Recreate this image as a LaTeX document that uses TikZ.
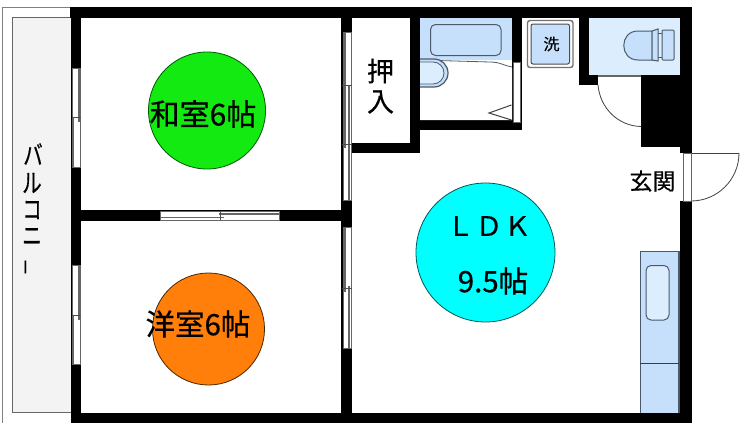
\documentclass[tikz,border=0pt]{standalone}
\usepackage{fontspec}
\setmainfont{Noto Sans CJK JP}[RawFeature={embolden=0.5}]
\definecolor{wallc}{HTML}{000000}
\definecolor{bluefix}{HTML}{C6E0FB}
\definecolor{paleblue}{HTML}{DCEEFD}
\definecolor{fixline}{HTML}{4A5A6A}
\definecolor{balc}{HTML}{F3F3F3}
\definecolor{winline}{HTML}{666666}
\definecolor{greenroom}{HTML}{12EA12}
\definecolor{cyanroom}{HTML}{00FFFF}
\definecolor{orangeroom}{HTML}{FF7F0A}
\tikzset{
  x=1pt,y=-1pt,
  wall/.style={fill=wallc,draw=none},
  winbox/.style={fill=white,draw=winline,line width=0.8pt},
  winrail/.style={draw=winline,line width=1.2pt},
  wintick/.style={draw=black!70,line width=0.8pt},
  fixt/.style={fill=bluefix,draw=fixline,line width=1pt},
  swing/.style={draw=black!75,line width=0.8pt},
  lbl/.style={inner sep=0pt,text=black}
}
\newcommand{\fsz}[1]{\fontsize{#1}{#1}\selectfont}
\begin{document}
\begin{tikzpicture}
\useasboundingbox (0,0) rectangle (741,423);
\fill[white] (0,0) rectangle (741,423);
% balcony
\draw[draw=black!50,line width=1pt,fill=white] (71,7) -- (2,7) -- (2,423);
\draw[draw=black!60,line width=1pt,fill=balc] (71,17) -- (12,17) -- (12,412) -- (71,412);
% room fills
\fill[bluefix] (420,18) rectangle (512,60);
\fill[paleblue] (589,18) rectangle (680,75);
\draw[draw=black!60,line width=0.8pt] (589,75) -- (680,75);
% circles
\draw[fill=greenroom,draw=green!35!black,line width=0.8pt] (207,110.5) circle[radius=58.5];
\draw[fill=cyanroom,draw=teal!70!black,line width=0.8pt] (485.5,252.5) circle[radius=69.5];
\draw[fill=orangeroom,draw=black!70!orange,line width=0.8pt] (208.5,329) circle[radius=56];
% walls
\fill[wall] (70,7) rectangle (692,18);
\fill[wall] (680,7) rectangle (692,153);
\fill[wall] (680,201) rectangle (692,423);
\fill[wall] (71,413) rectangle (692,423);
\fill[wall] (71,7) rectangle (81,423);
\fill[wall] (71,210) rectangle (341,221);
\fill[wall] (341,7) rectangle (352,423);
\fill[wall] (352,143) rectangle (420,153);
\fill[wall] (409.5,7) rectangle (420,153);
\fill[wall] (420,120) rectangle (522,130);
\fill[wall] (512,7) rectangle (522,130);
\fill[wall] (579,7) rectangle (589,85);
\fill[wall] (579,75) rectangle (598,85);
\fill[wall] (641,75) rectangle (692,147);
% left windows
\draw[winbox] (72,68) rectangle (80,167);
\draw[winrail] (79,68) -- (79,122);
\draw[winrail] (73,117) -- (73,167);
\draw[wintick] (72,117) -- (81,117);
\draw[winbox] (72,265) rectangle (80,364);
\draw[winrail] (79,265) -- (79,320);
\draw[winrail] (73,315) -- (73,364);
\draw[wintick] (72,315) -- (81,315);
% inner vertical windows
\draw[winbox] (343,32) rectangle (351,200);
\draw[winrail] (345,32) -- (345,148);
\draw[winrail] (349,85) -- (349,200);
\draw[wintick] (342,144) -- (352,144);
\draw[wintick] (342,85) -- (352,85);
\draw[winbox] (343,227) rectangle (351,348);
\draw[winrail] (345,227) -- (345,292);
\draw[winrail] (349,286) -- (349,348);
\draw[wintick] (342,288) -- (352,288);
% horizontal sliding door
\draw[winbox] (160,211.5) rectangle (279.5,220);
\draw[winrail] (160,217.5) -- (224,217.5);
\draw[winrail] (219,214) -- (279.5,214);
\draw[wintick] (220,211) -- (220,220);
% bath door
\draw[winbox] (513,62) rectangle (520.5,122);
% bath fixtures
\fill[white] (420,60) -- (490,62.5) .. controls (500,63) and (505,67) .. (512,68) -- (512,120) -- (420,120) -- cycle;
\draw[fixline,line width=0.8pt] (420,60) -- (490,62) .. controls (500,62) and (505,66) .. (512,67);
\draw[swing,line width=1pt] (511.5,105) -- (489,113) -- (511.5,120);
\draw[draw=fixline,fill=bluefix,line width=1pt,rounded corners=5pt] (430.5,24.5) rectangle (501,55.5);
\draw[draw=fixline,fill=bluefix,line width=1.2pt] (420,59) -- (434,59) arc[start angle=-90,end angle=90,radius=14] -- (420,87);
\draw[draw=fixline,fill=paleblue,line width=0.8pt] (420,62) -- (433,62) arc[start angle=-90,end angle=90,radius=11] -- (420,84);
% washer
\draw[draw=black!55,fill=white,line width=1.4pt,rounded corners=2.5pt] (527.5,20.5) rectangle (573,67.5);
\draw[draw=black!70,fill=bluefix,line width=1pt,rounded corners=2pt] (531,24) rectangle (569.5,64);
% toilet
\draw[fixt,rounded corners=1pt] (662,30) rectangle (674,60);
\draw[fixt] (652,31) -- (638,31) .. controls (619,31) and (619,60) .. (638,60) -- (652,60) -- cycle;
\draw[fixt] (652,31) -- (658,29) -- (658,61) -- (652,60) -- cycle;
\draw[fixt] (658,33) -- (662,33) (658,57) -- (662,57);
% toilet door
\fill[white] (598,76) rectangle (641,85);
\draw[draw=black!60,line width=0.7pt] (598,76) -- (641,76);
\draw[swing] (598,85) .. controls (600,108) and (618,126) .. (641,126.5);
% entry door
\fill[white] (680,153) rectangle (692,201);
\draw[winbox] (683,153.5) rectangle (691,201.5);
\draw[swing] (692,153) -- (739,153);
\draw[swing] (739,153) arc[start angle=0,end angle=90,radius=48];
% kitchen
\fill[bluefix] (640,251) rectangle (680,413);
\draw[draw=fixline,line width=1pt] (640,413) -- (640,251) -- (680,251);
\draw[draw=fixline,line width=2pt] (679,251) -- (679,413);
\draw[draw=fixline,fill=paleblue,line width=1pt,rounded corners=5pt] (646,265.5) rectangle (669,320);
\draw[draw=fixline!70!black,line width=1pt] (640,363) -- (679,363);
% labels
\node[lbl] (washitsu) at (203,114) {\fsz{30}和室6帖};
\node[lbl] (youshitsu) at (198,324) {\fsz{29.5}洋室6帖};
\node[lbl] (ldk) at (489,226) {\fsz{27}Ｌ\hspace{1.5pt}Ｄ\hspace{1.5pt}Ｋ};
\node[lbl] (jo) at (493,281) {\fsz{29.5}9.5帖};
\node[lbl] (oshi) at (380.5,71) {\fsz{27}押};
\node[lbl] (iri) at (380.5,102) {\fsz{27}入};
\node[lbl] (genkan) at (652.5,181) {\fsz{23}玄関};
\node[lbl] (sen) at (551.5,44) {\fsz{16}洗};
\node[lbl] (ba) at (33,154) {\fsz{26}\scalebox{0.75}[1]{バ}};
\node[lbl] (ru) at (32,183) {\fsz{26}\scalebox{0.75}[1]{ル}};
\node[lbl] (ko) at (32,210) {\fsz{26}\scalebox{0.75}[1]{コ}};
\node[lbl] (ni) at (32,236.5) {\fsz{26}\scalebox{0.75}[1]{ニ}};
\node[lbl] (bar) at (28,267) {\rotatebox{90}{\fsz{16}ー}};
\end{tikzpicture}
\end{document}
